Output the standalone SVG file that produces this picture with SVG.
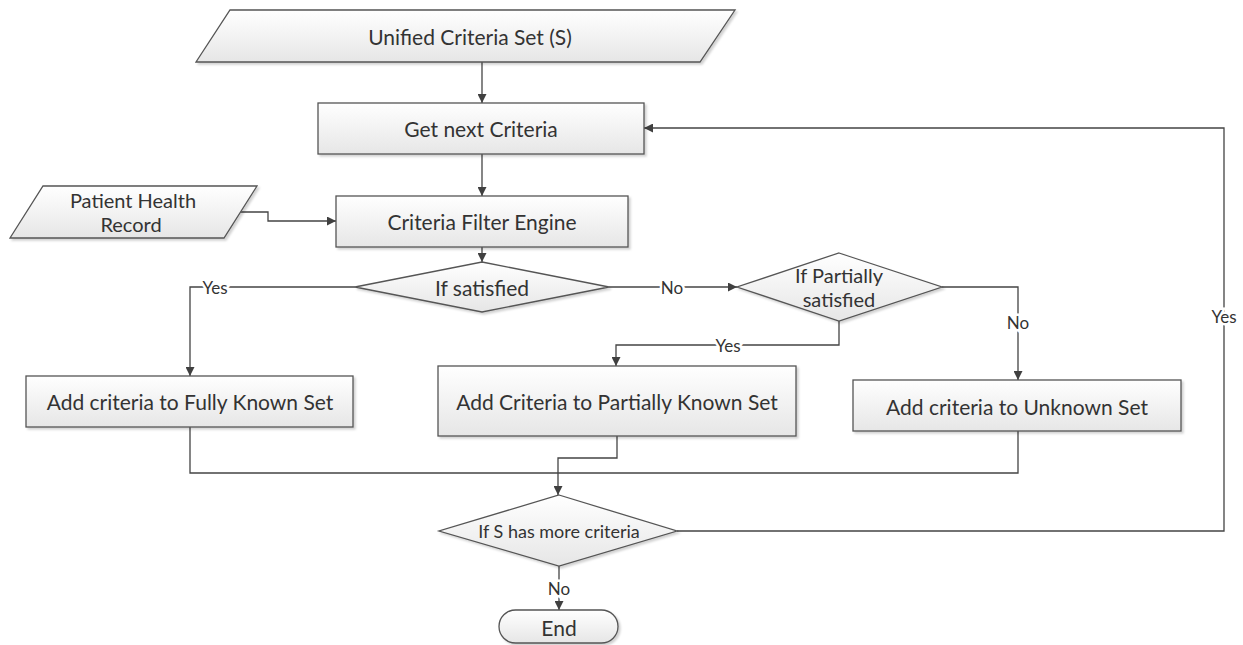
<svg xmlns="http://www.w3.org/2000/svg" width="1243" height="645" viewBox="0 0 1243 645">
<defs>
<linearGradient id="g" x1="0" y1="0" x2="0" y2="1">
<stop offset="0" stop-color="#ffffff"/>
<stop offset="1" stop-color="#e6e6e6"/>
</linearGradient>
<filter id="sh" x="-5%" y="-10%" width="115%" height="130%">
<feDropShadow dx="2" dy="2" stdDeviation="1.2" flood-color="#000" flood-opacity="0.18"/>
</filter>
<marker id="ah" viewBox="0 0 10 10" refX="10" refY="5" markerWidth="9" markerHeight="9" markerUnits="userSpaceOnUse" orient="auto">
<path d="M0,0 L10,5 L0,10 Z" fill="#404040"/>
</marker>
</defs>
<style>
.n{fill:url(#g);stroke:#555;stroke-width:1.3;filter:url(#sh)}
.t{font-family:Lato,"Open Sans","Liberation Sans",sans-serif;font-size:21px;fill:#333;text-anchor:middle;dominant-baseline:central}
.m{font-size:20px}
.s{font-size:18px}
.c{fill:none;stroke:#444;stroke-width:1.3}
.a{marker-end:url(#ah)}
.l{font-family:Lato,"Open Sans","Liberation Sans",sans-serif;font-size:17px;fill:#333;text-anchor:middle;dominant-baseline:central;stroke:#fff;stroke-width:5;paint-order:stroke}
</style>
<g id="connectors">
<path class="c a" d="M482,62 V103"/>
<path class="c a" d="M482,154 V196"/>
<path class="c a" d="M240,212 H268 V221 H336"/>
<path class="c a" d="M482,247 V262"/>
<path class="c a" d="M355,287 H190 V376"/>
<path class="c a" d="M609,287 H737"/>
<path class="c a" d="M839,321 V345 H616 V366"/>
<path class="c a" d="M942,287 H1018 V380"/>
<path class="c" d="M190,427 V473 H1018 V431"/>
<path class="c a" d="M617,436 V458 H558 V495"/>
<path class="c a" d="M677,531 H1224 V128 H644"/>
<path class="c a" d="M559,566 V610"/>
<text class="l" x="215" y="287">Yes</text>
<text class="l" x="672" y="287">No</text>
<text class="l" x="728" y="345">Yes</text>
<text class="l" x="1018" y="322">No</text>
<text class="l" x="1224" y="316">Yes</text>
<text class="l" x="559" y="588">No</text>
</g>
<g id="unified">
<polygon class="n" points="230,10 735,10 700,62 196,62"/>
<text class="t" x="470" y="36">Unified Criteria Set (S)</text>
</g>
<g id="getnext">
<rect class="n" x="318" y="103" width="326" height="51"/>
<text class="t" x="481" y="128">Get next Criteria</text>
</g>
<g id="patient">
<polygon class="n" points="43,186 257,186 224,238 10,238"/>
<text class="t m" x="133" y="200">Patient Health</text>
<text class="t m" x="131" y="224">Record</text>
</g>
<g id="filter">
<rect class="n" x="336" y="196" width="292" height="51"/>
<text class="t" x="482" y="221">Criteria Filter Engine</text>
</g>
<g id="ifsat">
<polygon class="n" points="482,262 609,287 482,312 355,287"/>
<text class="t" x="482" y="287">If satisfied</text>
</g>
<g id="ifpartial">
<polygon class="n" points="839,253 942,287 839,321 737,287"/>
<text class="t m" x="839" y="275">If Partially</text>
<text class="t m" x="839" y="299">satisfied</text>
</g>
<g id="fully">
<rect class="n" x="26" y="376" width="327" height="51"/>
<text class="t" x="190" y="401">Add criteria to Fully Known Set</text>
</g>
<g id="partially">
<rect class="n" x="438" y="366" width="358" height="70"/>
<text class="t" x="617" y="401">Add Criteria to Partially Known Set</text>
</g>
<g id="unknown">
<rect class="n" x="853" y="380" width="328" height="51"/>
<text class="t" x="1017" y="406">Add criteria to Unknown Set</text>
</g>
<g id="smore">
<polygon class="n" points="559,495 677,531 559,566 439,531"/>
<text class="t s" x="559" y="531">If S has more criteria</text>
</g>
<g id="end">
<rect class="n" x="499" y="610" width="119" height="33" rx="16.5"/>
<text class="t" x="559" y="627">End</text>
</g>
</svg>
